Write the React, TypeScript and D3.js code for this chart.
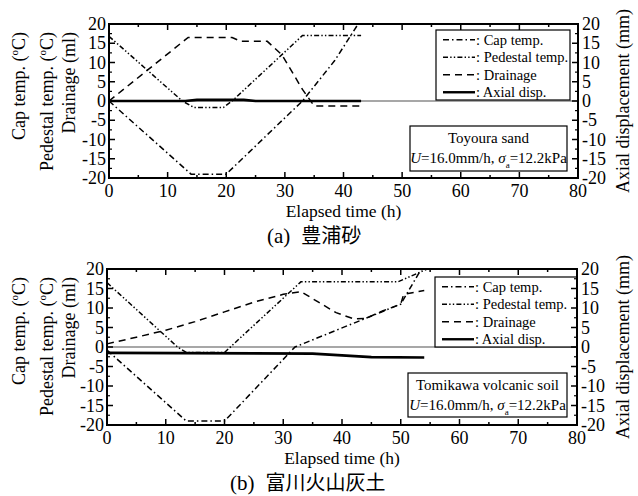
import * as d3 from 'd3'

// time (h), value pairs
const capTempA: [number, number][] = [[0, 0], [14, -19], [20, -19], [33, 0], [38.5, 10.5], [42.5, 20]]
const pedTempA: [number, number][] = [[0, 16.8], [12.5, 0], [14.5, -1.7], [19.5, -1.7], [21, 0], [33, 17], [43, 17]]
const drainA: [number, number][] = [[0, 0], [13.5, 16.5], [21, 16.5], [22.5, 15.5], [27, 15.5], [29.5, 12], [33, 3], [35, -1.3], [43, -1.3]]
const axialA: [number, number][] = [[0, 0], [13, 0], [15, 0.3], [23, 0.3], [25, 0], [43, 0]]

const capTempB: [number, number][] = [[0, -0.8], [13.5, -19], [20, -19], [32, 0], [50, 11], [53.5, 20]]
const pedTempB: [number, number][] = [[0, 16.5], [12, 0], [13.5, -1.4], [20, -1.4], [33, 16.7], [49.5, 16.7], [54.5, 20]]
const drainB: [number, number][] = [[0, 0.8], [5, 2.5], [10, 4.3], [15, 6.5], [20, 9], [25, 11.5], [30, 13.5], [33, 14.2], [36, 11.5], [39, 8.8], [42, 7.2], [44, 7.3], [47, 9.3], [50, 11], [50.5, 13.5], [54, 14.5]]
const axialB: [number, number][] = [[0, -1.5], [35, -1.7], [45, -2.6], [54, -2.7]]

const xTicks = [0, 10, 20, 30, 40, 50, 60, 70, 80]
const yTicks = [-20, -15, -10, -5, 0, 5, 10, 15, 20]
const legendLabels = [': Cap temp.', ': Pedestal temp.', ': Drainage', ': Axial disp.']
const dashes = ['6,3,1.5,3', '5,2.2,1.4,2.2,1.4,2.2', '7,5', '']

const serif = "'Liberation Serif', 'Times New Roman', Times, 'DejaVu Serif', serif"
const cjk = "'Noto Sans CJK JP', 'Noto Sans CJK SC', sans-serif"

interface PanelProps {
  left: number
  right: number
  top: number
  bottom: number
  series: [number, number][][]
  legend: { x0: number; x1: number; y0: number; y1: number }
  note: { x0: number; x1: number; y0: number; y1: number }
  site: string
  label: string
  caption: string
  captionX: number
}

function Panel({ left, right, top, bottom, series, legend, note, site, label, caption, captionX }: PanelProps) {
  const x = d3.scaleLinear().domain([0, 80]).range([left, right])
  const y = d3.scaleLinear().domain([-20, 20]).range([bottom, top])
  const line = d3.line<[number, number]>().x(d => x(d[0])).y(d => y(d[1]))
  const xMinor = d3.range(5, 80, 10)
  const yMinor = d3.range(-17.5, 20, 5)
  const titleEnd = top + 8
  const midY = (top + bottom) / 2
  const rowH = (legend.y1 - legend.y0) / 4

  const leftTitles = [
    { t: 'Cap temp. (', deg: true, x: 19 },
    { t: 'Pedestal temp. (', deg: true, x: 47 },
    { t: 'Drainage (ml)', deg: false, x: 69 },
  ]

  return (
    <g style={{ fontFamily: serif }} fill="#000">
      {/* zero line */}
      <line x1={left} x2={right} y1={y(0)} y2={y(0)} stroke="#8a8a8a" strokeWidth={1.5} />

      {/* data */}
      {series.map((s, i) => (
        <path key={i} d={line(s) ?? ''} fill="none" stroke="#000"
          strokeWidth={i === 3 ? 2.6 : 1.5} strokeDasharray={dashes[i] || undefined} />
      ))}

      {/* legend */}
      <rect x={legend.x0} y={legend.y0} width={legend.x1 - legend.x0} height={legend.y1 - legend.y0}
        fill="#fff" stroke="#000" strokeWidth={1.2} />
      {legendLabels.map((l, i) => {
        const cy = legend.y0 + rowH * (i + 0.5) + 1
        return (
          <g key={l}>
            <line x1={legend.x0 + 7} x2={legend.x0 + 39} y1={cy} y2={cy} stroke="#000"
              strokeWidth={i === 3 ? 2.4 : 1.3} strokeDasharray={dashes[i] || undefined} />
            <text x={legend.x0 + 40} y={cy + 5} fontSize={14.5}>{l}</text>
          </g>
        )
      })}

      {/* note */}
      <rect x={note.x0} y={note.y0} width={note.x1 - note.x0} height={note.y1 - note.y0}
        fill="#fff" stroke="#000" strokeWidth={1.2} />
      <text x={(note.x0 + note.x1) / 2} y={note.y0 + 17} fontSize={15} textAnchor="middle">{site}</text>
      <text x={(note.x0 + note.x1) / 2} y={note.y0 + 37} fontSize={15} textAnchor="middle">
        <tspan fontStyle="italic">U</tspan>=16.0mm/h, <tspan fontStyle="italic">σ</tspan>
        <tspan fontSize={9} dy={5}>a</tspan><tspan dy={-5}>=12.2kPa</tspan>
      </text>

      {/* frame */}
      <rect x={left} y={top} width={right - left} height={bottom - top} fill="none" stroke="#000" strokeWidth={2} />

      {/* x ticks */}
      {xTicks.map(t => (
        <g key={'x' + t}>
          <line x1={x(t)} x2={x(t)} y1={bottom} y2={bottom - 6} stroke="#000" strokeWidth={1.5} />
          <line x1={x(t)} x2={x(t)} y1={top} y2={top + 6} stroke="#000" strokeWidth={1.5} />
          <text x={x(t)} y={bottom + 19} fontSize={18} textAnchor="middle">{t}</text>
        </g>
      ))}
      {xMinor.map(t => (
        <g key={'xm' + t}>
          <line x1={x(t)} x2={x(t)} y1={bottom} y2={bottom - 3} stroke="#000" strokeWidth={1.5} />
          <line x1={x(t)} x2={x(t)} y1={top} y2={top + 3} stroke="#000" strokeWidth={1.5} />
        </g>
      ))}

      {/* y ticks, both sides */}
      {yTicks.map(t => (
        <g key={'y' + t}>
          <line x1={left} x2={left + 6} y1={y(t)} y2={y(t)} stroke="#000" strokeWidth={1.5} />
          <line x1={right} x2={right - 6} y1={y(t)} y2={y(t)} stroke="#000" strokeWidth={1.5} />
          <text x={left - 3} y={y(t) + 6} fontSize={18} textAnchor="end">{t}</text>
          <text x={right + 4} y={y(t) + 6} fontSize={18}>{t}</text>
        </g>
      ))}
      {yMinor.map(t => (
        <g key={'ym' + t}>
          <line x1={left} x2={left + 3} y1={y(t)} y2={y(t)} stroke="#000" strokeWidth={1.2} />
          <line x1={right} x2={right - 3} y1={y(t)} y2={y(t)} stroke="#000" strokeWidth={1.2} />
        </g>
      ))}

      {/* axis titles */}
      {leftTitles.map(lt => (
        <text key={lt.t} transform={`translate(${lt.x + 6},${titleEnd}) rotate(-90)`} fontSize={18} textAnchor="end">
          {lt.deg ? (
            <>
              {lt.t}<tspan fontSize={11} dy={-7}>o</tspan><tspan dy={7}>C)</tspan>
            </>
          ) : lt.t}
        </text>
      ))}
      <text transform={`translate(629,${midY}) rotate(-90)`} fontSize={18} textAnchor="middle">
        Axial displacement (mm)
      </text>
      <text x={(left + right) / 2} y={bottom + 39} fontSize={17.5} textAnchor="middle">Elapsed time (h)</text>
      <text x={captionX} y={bottom + 65} fontSize={21}>
        {label}<tspan dx={11} style={{ fontFamily: cjk }} fontSize={20}>{caption}</tspan>
      </text>
    </g>
  )
}

export default function App() {
  return (
    <svg width={638} height={496} style={{ position: 'absolute', left: 0, top: 0, background: '#fff' }}>
      <rect width={638} height={496} fill="#fff" />
      <Panel left={109} right={578} top={24} bottom={178}
        series={[capTempA, pedTempA, drainA, axialA]}
        legend={{ x0: 436, x1: 570, y0: 30, y1: 100 }}
        note={{ x0: 410, x1: 567, y0: 126, y1: 171 }}
        site="Toyoura sand" label="(a)" caption="豊浦砂" captionX={267} />
      <Panel left={107} right={577} top={269} bottom={425}
        series={[capTempB, pedTempB, drainB, axialB]}
        legend={{ x0: 435, x1: 577, y0: 277, y1: 347 }}
        note={{ x0: 408, x1: 567, y0: 373, y1: 417 }}
        site="Tomikawa volcanic soil" label="(b)" caption="富川火山灰土" captionX={230} />
    </svg>
  )
}
